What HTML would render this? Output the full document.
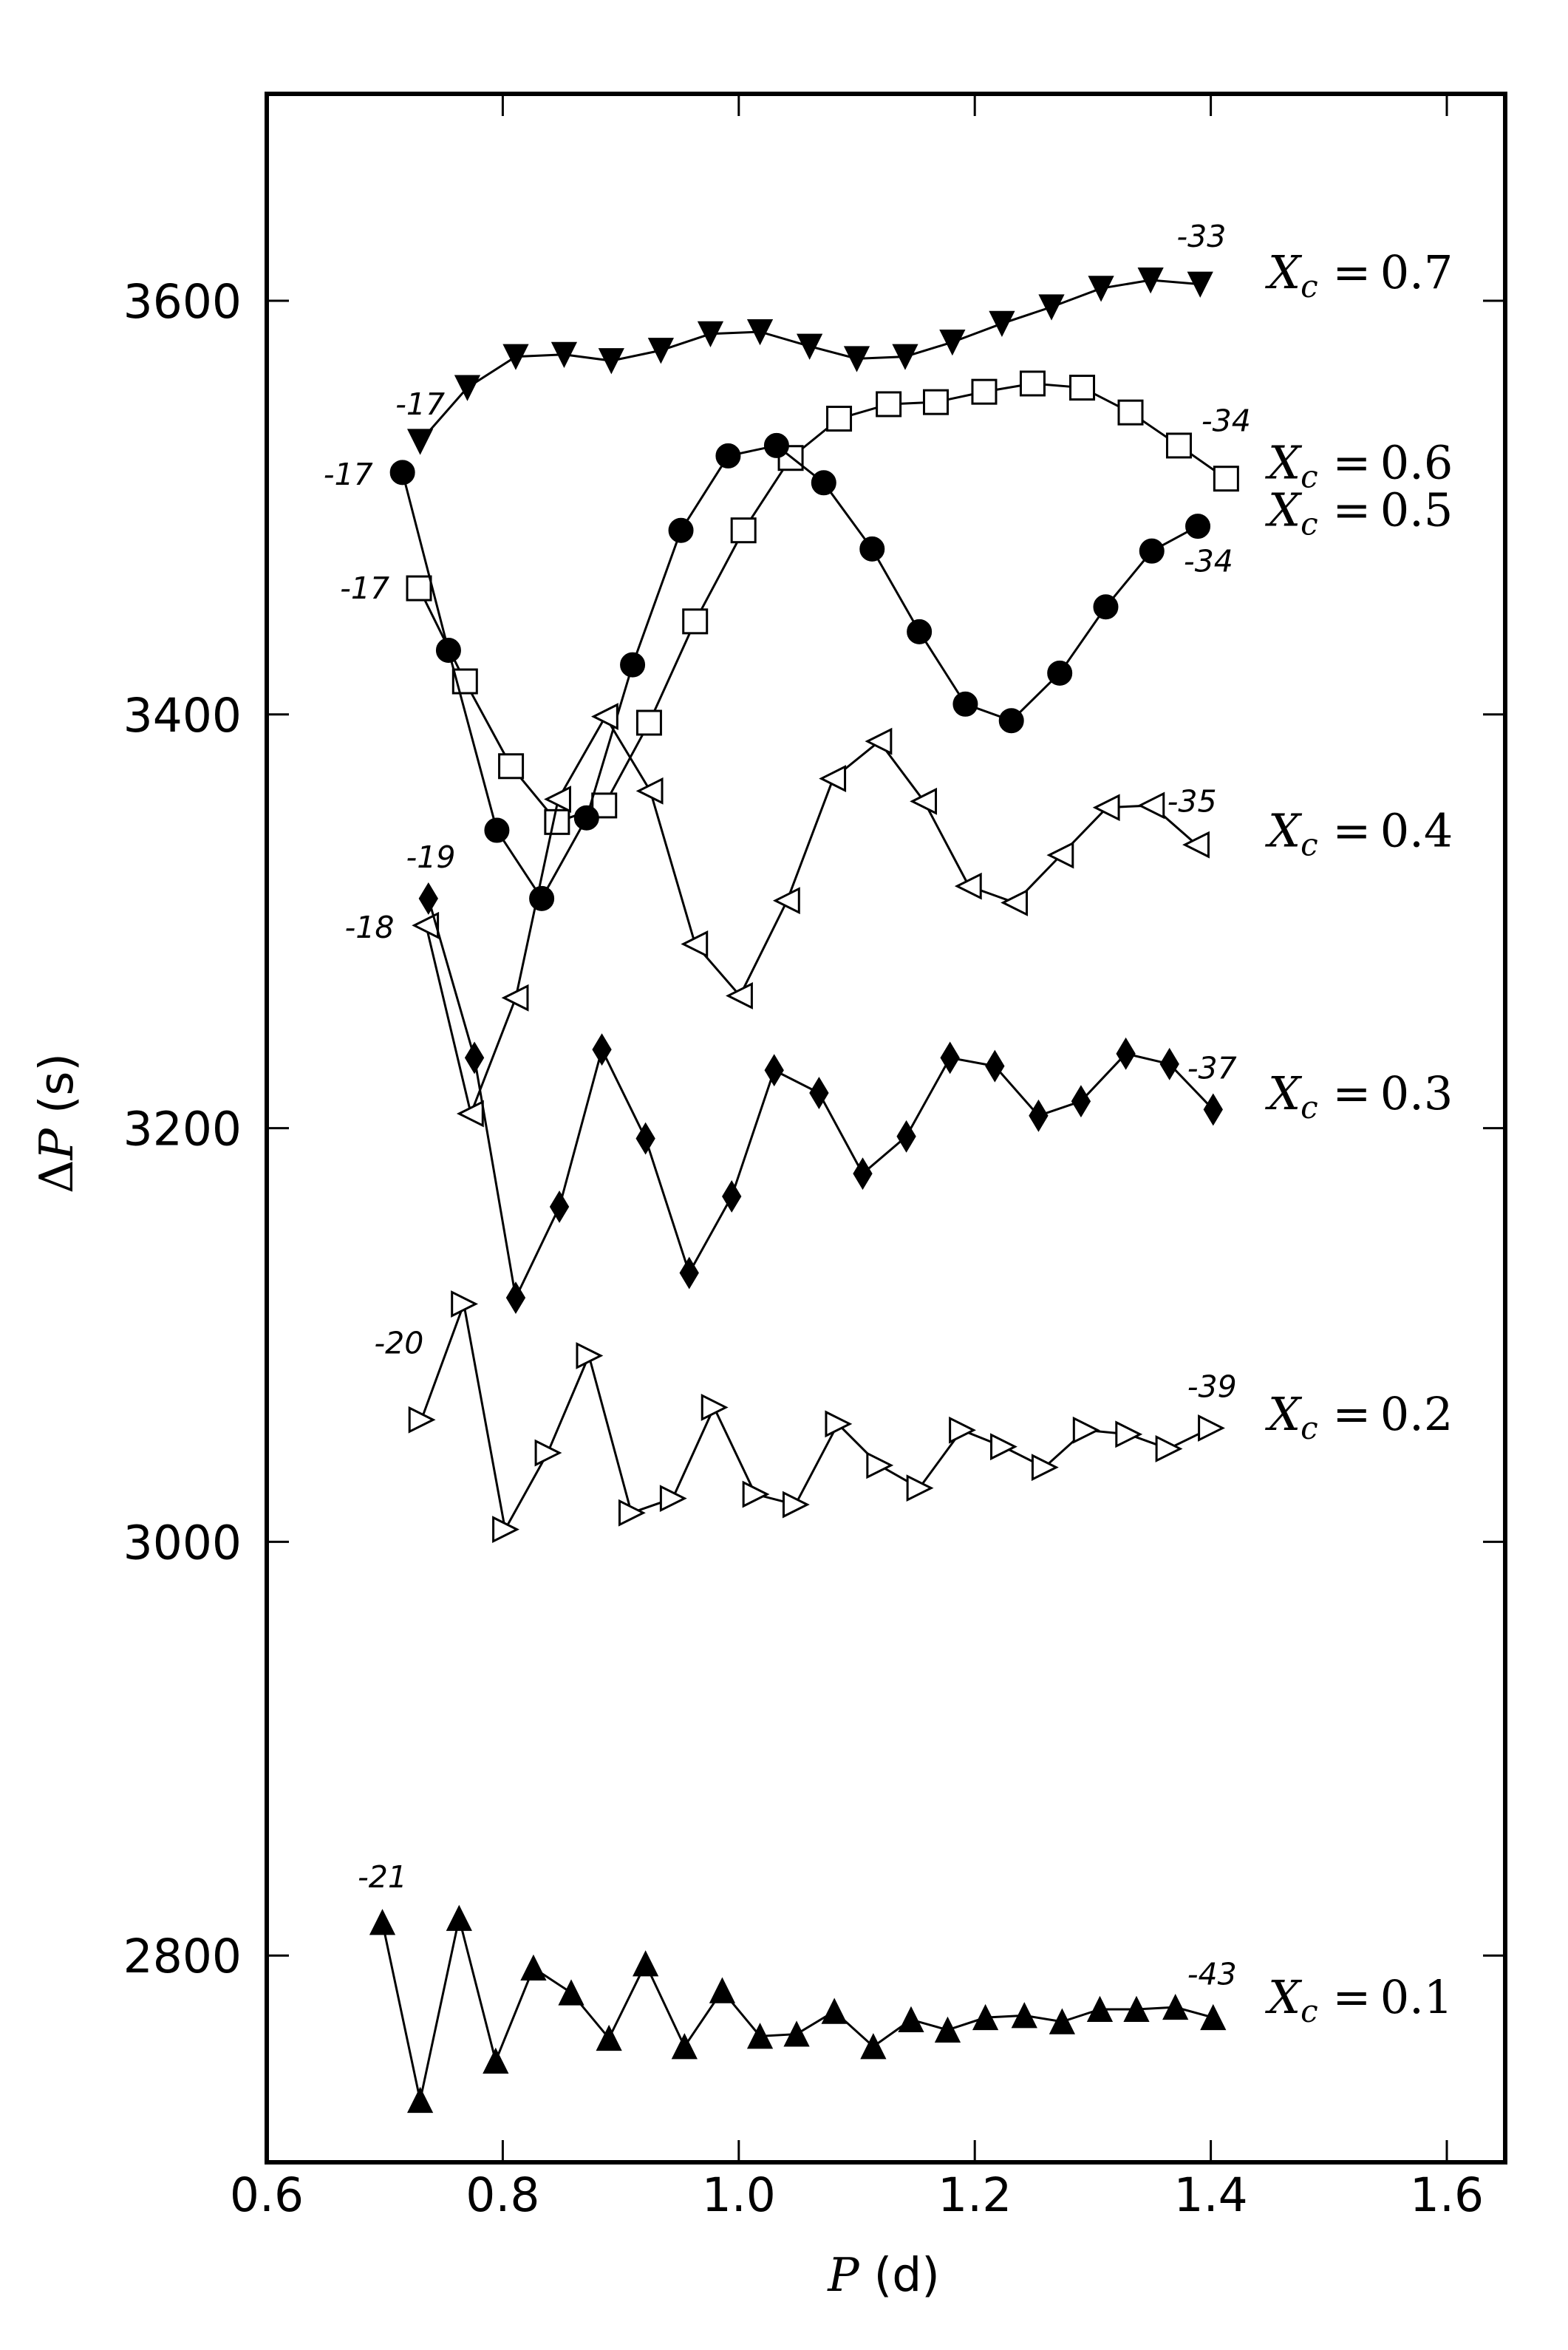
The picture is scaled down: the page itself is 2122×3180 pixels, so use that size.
<!DOCTYPE html>
<html><head><meta charset="utf-8"><style>
html,body{margin:0;padding:0;background:#fff}
svg{display:block}
.tk{font-family:"DejaVu Sans","Liberation Sans",sans-serif;font-size:63px}
.ann{font-family:"DejaVu Sans","Liberation Sans",sans-serif;font-size:41px;font-style:italic}
.xc{font-family:"DejaVu Serif","Liberation Serif",serif;font-size:62px}
</style></head><body>
<svg id="chart" width="2122" height="3180" viewBox="0 0 2122 3180" xmlns="http://www.w3.org/2000/svg">
<g id="plot"></g>
<rect x="361" y="127" width="1676" height="2799" fill="none" stroke="#000" stroke-width="6"/>
<text class="tk" transform="translate(98,1520) rotate(-90)" text-anchor="middle"><tspan font-family="DejaVu Serif,serif">Δ</tspan><tspan font-family="DejaVu Serif,serif" font-style="italic">P</tspan> (s)</text>
<text class="tk" x="1196" y="3100" text-anchor="middle"><tspan font-family="DejaVu Serif,serif" font-style="italic">P</tspan> (d)</text>
</svg>
<script>
const xTicks=[0.6,0.8,1.0,1.2,1.4,1.6];
const yTicks=[2800,3000,3200,3400,3600];
const xTickLabels=["0.6","0.8","1.0","1.2","1.4","1.6"];
const yTickLabels=["2800","3000","3200","3400","3600"];
const s07x=[0.730,0.770,0.811,0.852,0.892,0.934,0.976,1.018,1.060,1.100,1.141,1.181,1.223,1.265,1.307,1.349,1.391];
const s07y=[3532,3558,3573,3574,3571,3576,3584,3585,3578,3572,3573,3580,3589,3597,3606,3610,3608];
const s06x=[0.729,0.768,0.807,0.846,0.886,0.924,0.963,1.004,1.044,1.085,1.127,1.167,1.208,1.249,1.291,1.332,1.373,1.413];
const s06y=[3461,3416,3375,3348,3356,3396,3445,3489,3524,3543,3550,3551,3556,3560,3558,3546,3530,3514];
const s05x=[0.715,0.754,0.795,0.833,0.871,0.910,0.951,0.991,1.032,1.072,1.113,1.153,1.192,1.231,1.272,1.311,1.350,1.389];
const s05y=[3517,3431,3344,3311,3350,3424,3489,3525,3530,3512,3480,3440,3405,3397,3420,3452,3479,3491];
const s04x=[0.735,0.773,0.811,0.847,0.887,0.925,0.963,1.001,1.041,1.080,1.119,1.157,1.195,1.234,1.273,1.312,1.350,1.388];
const s04y=[3298,3207,3263,3359,3399,3363,3289,3264,3310,3369,3387,3358,3317,3309,3332,3355,3356,3337];
const s03x=[0.737,0.776,0.811,0.848,0.884,0.921,0.958,0.994,1.030,1.068,1.105,1.142,1.179,1.217,1.254,1.290,1.328,1.365,1.402];
const s03y=[3311,3234,3118,3162,3238,3195,3130,3167,3228,3217,3178,3196,3234,3230,3206,3213,3236,3231,3209];
const s02x=[0.731,0.767,0.802,0.838,0.873,0.909,0.944,0.979,1.014,1.048,1.084,1.119,1.153,1.189,1.224,1.259,1.294,1.330,1.364,1.400];
const s02y=[3059,3115,3006,3043,3090,3014,3021,3065,3023,3018,3057,3037,3026,3054,3046,3036,3054,3052,3045,3055];
const s01x=[0.698,0.730,0.763,0.794,0.826,0.858,0.890,0.921,0.954,0.986,1.018,1.049,1.081,1.114,1.146,1.177,1.209,1.242,1.274,1.306,1.337,1.370,1.402];
const s01y=[2816,2730,2818,2749,2794,2782,2760,2796,2756,2783,2761,2762,2773,2756,2769,2764,2770,2771,2768,2774,2774,2775,2770];
const seriesNames=["xc-0.7","xc-0.6","xc-0.5","xc-0.4","xc-0.3","xc-0.2","xc-0.1"];
const seriesLabels=["0.7","0.6","0.5","0.4","0.3","0.2","0.1"];
const labelY=[3614,3522,3499,3344,3217,3062,2780];
const annText=["-33","-17","-34","-17","-17","-34","-35","-19","-18","-37","-20","-39","-21","-43"];
const annX=[1.392,0.730,1.413,0.669,0.683,1.398,1.384,0.739,0.687,1.401,0.712,1.401,0.698,1.401];
const annY=[3631,3550,3542,3516,3461,3474,3358,3331,3297,3229,3096,3075,2838,2791];

const X0=361,XS=1597,Y0=407,YS=2.799;
function xs(v){return X0+(v-0.6)*XS;}
function ys(v){return Y0-(v-3600)*YS;}
const NS="http://www.w3.org/2000/svg";
const plot=document.getElementById('plot');
function mk(tag,attrs,parent){const e=document.createElementNS(NS,tag);for(const k in attrs)e.setAttribute(k,attrs[k]);(parent||plot).appendChild(e);return e;}

xTicks.forEach((t,i)=>{
  const x=xs(t);
  const a=mk('line',{x1:x,x2:x,y1:2926,y2:2896,stroke:'#000','stroke-width':3});
  
  
  const b=mk('line',{x1:x,x2:x,y1:127,y2:157,stroke:'#000','stroke-width':3});
  
  
  const l=mk('text',{x:x,y:2992,'text-anchor':'middle',class:'tk'});
  l.textContent=xTickLabels[i];
  
  
});
yTicks.forEach((t,i)=>{
  const y=ys(t);
  const a=mk('line',{x1:361,x2:391,y1:y,y2:y,stroke:'#000','stroke-width':3});
  
  
  const b=mk('line',{x1:2007,x2:2037,y1:y,y2:y,stroke:'#000','stroke-width':3});
  
  
  const l=mk('text',{x:327,y:y+23,'text-anchor':'end',class:'tk'});
  l.textContent=yTickLabels[i];
  
  
});

function marker(kind,x,y,g){
  const r=16;let e;
  if(kind==='circle') e=mk('circle',{cx:x,cy:y,r:r,fill:'#000',stroke:'#000','stroke-width':2},g);
  else if(kind==='square') e=mk('rect',{x:x-r,y:y-r,width:2*r,height:2*r,fill:'#fff',stroke:'#000','stroke-width':3},g);
  else if(kind==='down') e=mk('path',{d:`M${x-r},${y-r} L${x+r},${y-r} L${x},${y+r} Z`,fill:'#000',stroke:'#000','stroke-width':2},g);
  else if(kind==='up') e=mk('path',{d:`M${x-r},${y+r} L${x+r},${y+r} L${x},${y-r} Z`,fill:'#000',stroke:'#000','stroke-width':2},g);
  else if(kind==='left') e=mk('path',{d:`M${x+r},${y-r} L${x+r},${y+r} L${x-r},${y} Z`,fill:'#fff',stroke:'#000','stroke-width':3},g);
  else if(kind==='right') e=mk('path',{d:`M${x-r},${y-r} L${x-r},${y+r} L${x+r},${y} Z`,fill:'#fff',stroke:'#000','stroke-width':3},g);
  else if(kind==='diamond') e=mk('path',{d:`M${x},${y-20} L${x+12},${y} L${x},${y+20} L${x-12},${y} Z`,fill:'#000',stroke:'#000','stroke-width':2},g);
  return e;
}
const allX=[s07x,s06x,s05x,s04x,s03x,s02x,s01x];
const allY=[s07y,s06y,s05y,s04y,s03y,s02y,s01y];
const kinds=['down','square','circle','left','diamond','right','up'];
allX.forEach((xa,si)=>{
  const g=mk('g',{});
  
  
  const pts=xa.map((v,i)=>xs(v)+','+ys(allY[si][i])).join(' ');
  const pl=mk('polyline',{points:pts,fill:'none',stroke:'#000','stroke-width':3},g);
  
  
  xa.forEach((v,i)=>{
    const m=marker(kinds[si],xs(v),ys(allY[si][i]),g);
    
    
  });
  const t=mk('text',{x:1716,y:ys(labelY[si])+22,class:'xc'});
  
  
  const a=mk('tspan',{'font-style':'italic'},t);a.textContent='X';
  const b=mk('tspan',{'font-style':'italic','font-size':'42px',dy:12},t);b.textContent='c';
  const c=mk('tspan',{dy:-12},t);c.textContent=' =\u2009'+seriesLabels[si];
});
annText.forEach((s,i)=>{
  const t=mk('text',{x:xs(annX[i]),y:ys(annY[i])+14,'text-anchor':'middle',class:'ann'});
  t.textContent=s;
  
  
});
</script>
</body></html>
